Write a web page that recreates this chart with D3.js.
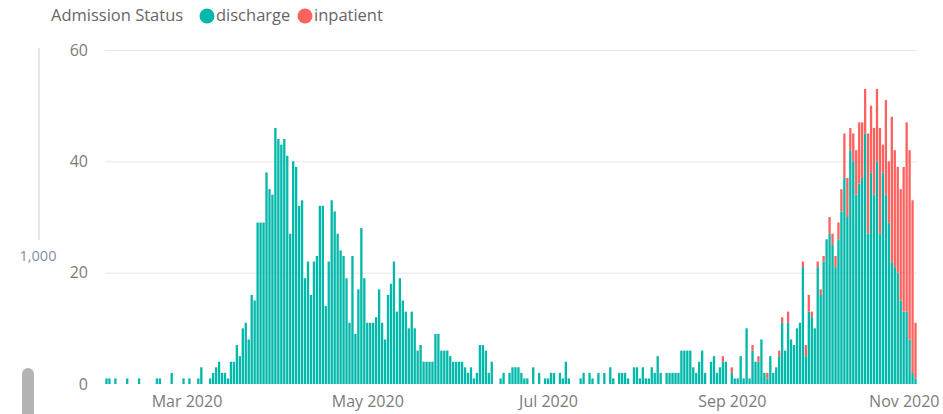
<!DOCTYPE html>
<html>
<head>
<meta charset="utf-8">
<script src="https://cdn.jsdelivr.net/npm/d3@7"></script>
<style>
  body { margin: 0; background: #fff; overflow: hidden; }
  text { font-family: "Open Sans", "Noto Sans", sans-serif; }
</style>
</head>
<body>
<script>
// daily admissions, first value is 3 Feb 2020
var startDate = new Date(2020, 1, 3)

var discharge = [
    // Feb 3-29
    1, 1, 0, 1, 0, 0, 0, 1, 0, 0, 0, 1, 0, 0, 0, 0, 0, 1, 1, 0, 0, 0, 2, 0, 0, 0, 1,
    // Mar
    0, 1, 0, 0, 1, 3, 0, 0, 1, 2, 3, 4, 2, 2, 1, 4, 4, 7, 5, 10, 11, 8, 16, 15, 29, 29, 29, 38, 35, 34, 46,
    // Apr
    44, 43, 44, 41, 27, 40, 39, 32, 33, 19, 22, 16, 22, 23, 32, 32, 14, 22, 33, 31, 27, 24, 23, 19, 11, 23, 9, 17, 28, 19,
    // May
    11, 11, 11, 12, 17, 11, 8, 16, 18, 22, 13, 19, 15, 13, 10, 13, 10, 6, 7, 4, 4, 4, 4, 9, 9, 6, 6, 6, 5, 4, 4,
    // Jun
    4, 4, 3, 2, 3, 1, 2, 7, 7, 6, 2, 4, 0, 0, 1, 2, 0, 2, 3, 3, 3, 2, 1, 1, 0, 3, 0, 2, 0, 1,
    // Jul
    1, 2, 2, 0, 2, 1, 4, 1, 0, 0, 0, 1, 2, 0, 2, 1, 0, 2, 0, 2, 0, 3, 1, 0, 2, 2, 2, 1, 0, 3, 3,
    // Aug
    1, 3, 1, 1, 3, 2, 5, 2, 0, 2, 2, 2, 2, 2, 6, 6, 6, 6, 3, 2, 4, 6, 2, 0, 4, 5, 2, 3, 4, 4, 0,
    // Sep
    2, 1, 1, 5, 1, 10, 1, 6, 4, 4, 8, 2, 1, 5, 2, 3, 5, 11, 6, 11, 8, 7, 10, 11, 21, 5, 13, 12, 10, 21,
    // Oct
    16, 22, 26, 27, 25, 21, 26, 31, 37, 30, 42, 40, 34, 36, 37, 45, 27, 38, 34, 40, 27, 38, 34, 29, 22, 21, 20, 15, 13, 13, 8,
    // Nov 1-2
    2, 1
]

var inpatient = [
    // Feb 3-29
    0, 0, 0, 0, 0, 0, 0, 0, 0, 0, 0, 0, 0, 0, 0, 0, 0, 0, 0, 0, 0, 0, 0, 0, 0, 0, 0,
    // Mar
    0, 0, 0, 0, 0, 0, 0, 0, 0, 0, 0, 0, 0, 0, 0, 0, 0, 0, 0, 0, 0, 0, 0, 0, 0, 0, 0, 0, 0, 0, 0,
    // Apr
    0, 0, 0, 0, 0, 0, 0, 0, 0, 0, 0, 0, 0, 0, 0, 0, 0, 0, 0, 0, 0, 0, 0, 0, 0, 0, 0, 0, 0, 0,
    // May
    0, 0, 0, 0, 0, 0, 0, 0, 0, 0, 0, 0, 0, 0, 0, 0, 0, 0, 0, 0, 0, 0, 0, 0, 0, 0, 0, 0, 0, 0, 0,
    // Jun
    0, 0, 0, 0, 0, 0, 0, 0, 0, 0, 0, 0, 0, 0, 0, 0, 0, 0, 0, 0, 0, 0, 0, 0, 0, 0, 0, 0, 0, 0,
    // Jul
    0, 0, 0, 0, 0, 0, 0, 0, 0, 0, 0, 0, 0, 0, 0, 0, 0, 0, 0, 0, 0, 0, 0, 0, 0, 0, 0, 0, 0, 0, 0,
    // Aug
    0, 0, 0, 0, 0, 0, 0, 0, 0, 0, 0, 0, 0, 0, 0, 0, 0, 0, 0, 0, 0, 0, 0, 0, 0, 0, 0, 0, 1, 0, 0,
    // Sep
    1, 0, 0, 0, 0, 0, 0, 1, 0, 1, 0, 0, 1, 0, 0, 0, 1, 1, 0, 2, 0, 0, 0, 0, 1, 2, 3, 1, 0, 1,
    // Oct
    1, 1, 0, 3, 2, 2, 3, 4, 8, 7, 4, 5, 8, 11, 10, 8, 18, 12, 12, 13, 19, 5, 17, 11, 26, 21, 19, 20, 26, 34, 34,
    // Nov 1-2
    31, 10
]

var seriesNames = ["discharge", "inpatient"]
var seriesColors = ["#01B8AA", "#FD625E"]
var legendTitle = "Admission Status"
var yTicks = [0, 20, 40, 60]
var monthTicks = [new Date(2020, 2, 1), new Date(2020, 4, 1), new Date(2020, 6, 1), new Date(2020, 8, 1), new Date(2020, 10, 1)]
var monthLabels = ["Mar 2020", "May 2020", "Jul 2020", "Sep 2020", "Nov 2020"]
var strayLabel = "1,000"

var W = 943, H = 414
var plot = { left: 105, right: 917, top: 50, bottom: 384 }
var halfDay = 12 * 3600 * 1000
var font = "'Open Sans', 'Noto Sans', sans-serif"

var rows = discharge.map((v, i) => {
    var d = new Date(startDate)
    d.setDate(d.getDate() + i)
    return { date: d, discharge: v, inpatient: inpatient[i] }
})

var xScale = d3.scaleTime()
    .domain([new Date(+rows[0].date - halfDay), new Date(+rows[rows.length - 1].date + halfDay)])
    .range([plot.left, plot.right])

var yScale = d3.scaleLinear()
    .domain([0, 60])
    .range([plot.bottom, plot.top])

var color = d3.scaleOrdinal().domain(seriesNames).range(seriesColors)

var svg = d3.select("body").append("svg")
    .attr("width", W)
    .attr("height", H)

// gridlines
svg.append("g")
    .attr("transform", "translate(" + plot.left + ",0)")
    .call(d3.axisLeft(yScale).tickValues(yTicks.filter(t => t > 0)).tickSize(-(plot.right - plot.left)).tickFormat(""))
    .call(g => g.select(".domain").remove())
    .call(g => g.selectAll("line").attr("stroke", "#e8e8e8").attr("stroke-width", 1))

// y labels
svg.append("g")
    .attr("transform", "translate(" + plot.left + ",0)")
    .call(d3.axisLeft(yScale).tickValues(yTicks).tickSize(0).tickPadding(17))
    .call(g => g.select(".domain").remove())
    .call(g => g.selectAll("text")
        .attr("fill", "#7b7b7b")
        .style("font-size", "16px")
        .style("font-family", font))

// stacked bars
var stacked = d3.stack().keys(seriesNames)(rows)
var barW = (xScale(new Date(2020, 2, 2)) - xScale(new Date(2020, 2, 1))) * 0.78

svg.append("g").selectAll("g")
    .data(stacked)
    .join("g")
    .attr("fill", d => color(d.key))
    .selectAll("rect")
    .data(d => d.filter(p => p[1] > p[0]))
    .join("rect")
    .attr("x", d => xScale(d.data.date) - barW / 2)
    .attr("width", barW)
    .attr("y", d => yScale(d[1]))
    .attr("height", d => yScale(d[0]) - yScale(d[1]))

// x labels, the last one is pulled in so it stays inside the visual
var xAxis = svg.append("g")
    .attr("transform", "translate(0," + plot.bottom + ")")
    .call(d3.axisBottom(xScale).tickValues(monthTicks).tickSize(0).tickPadding(12)
        .tickFormat((d, i) => monthLabels[i]))
    .call(g => g.select(".domain").remove())
    .call(g => g.selectAll("text")
        .attr("fill", "#7b7b7b")
        .style("font-size", "16px")
        .style("font-family", font))

xAxis.selectAll("text").each(function () {
    var box = this.getBBox()
    var tx = xScale(d3.select(this.parentNode).datum())
    var overflow = tx + box.x + box.width - (W - 4)
    if (overflow > 0) d3.select(this).attr("x", -overflow)
})

// legend
var legend = svg.append("g").attr("transform", "translate(0,15)")
legend.append("text")
    .attr("x", 51)
    .attr("dy", "0.35em")
    .attr("fill", "#666")
    .style("font-size", "16.5px")
    .text(legendTitle)

var legendX = [207, 305]
seriesNames.forEach((name, i) => {
    legend.append("circle")
        .attr("cx", legendX[i])
        .attr("cy", 1)
        .attr("r", 7.5)
        .attr("fill", color(name))
    legend.append("text")
        .attr("x", legendX[i] + 9)
        .attr("dy", "0.35em")
        .attr("fill", "#666")
        .style("font-size", "16.5px")
        .text(name)
})

// leftover bits of the dashboard visible at the left edge
svg.append("line")
    .attr("x1", 39).attr("x2", 39)
    .attr("y1", 48).attr("y2", 240)
    .attr("stroke", "#e6e6e6")
    .attr("stroke-width", 2)

svg.append("text")
    .attr("x", 38)
    .attr("y", 256)
    .attr("dy", "0.35em")
    .attr("text-anchor", "middle")
    .attr("fill", "#8090a6")
    .style("font-size", "14.5px")
    .text(strayLabel)

svg.append("rect")
    .attr("x", 22)
    .attr("y", 368)
    .attr("width", 12)
    .attr("height", 60)
    .attr("rx", 6)
    .attr("fill", "#b3b3b3")
</script>
</body>
</html>
